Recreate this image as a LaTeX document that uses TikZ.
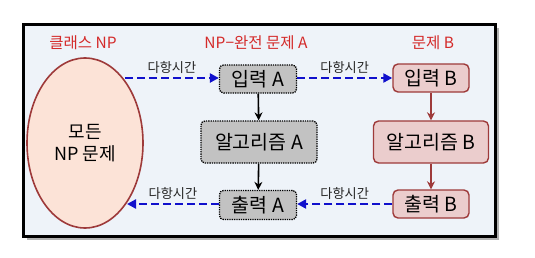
\documentclass[tikz,border=0pt]{standalone}
\usepackage{fontspec}
\setmainfont{Noto Sans CJK KR}
\usetikzlibrary{arrows.meta,shadows,shapes.geometric}
\definecolor{titlered}{HTML}{D42A2A}
\definecolor{boxgrey}{HTML}{C2C2C2}
\definecolor{pinkfill}{HTML}{EBCDCD}
\definecolor{darkred}{HTML}{9E3A3A}
\definecolor{peach}{HTML}{FCE3D7}
\definecolor{arrowblue}{HTML}{1010CC}
\definecolor{bgblue}{HTML}{EEF3F9}
\tikzset{
  greybox/.style={draw=black, densely dotted, line width=1.3pt, fill=boxgrey, rounded corners=4pt, inner sep=0pt, font=\fontsize{19.5}{20}\selectfont},
  pinkbox/.style={draw=darkred, line width=1.4pt, fill=pinkfill, rounded corners=5pt, inner sep=0pt, font=\fontsize{19.5}{20}\selectfont},
  titletext/.style={text=titlered, font=\fontsize{15.5}{16}\selectfont},
  lbl/.style={font=\fontsize{13.2}{14}\selectfont, text=black!85},
  polyarrow/.style={draw=arrowblue, line width=2.6pt, dash pattern=on 8pt off 4pt, -{Triangle[length=9pt,width=9pt]}},
  blackarrow/.style={draw=black, line width=1.6pt, -{Stealth[length=8pt,width=8pt]}},
  redarrow/.style={draw=darkred, line width=1.6pt, -{Stealth[length=8pt,width=8pt]}},
}
\begin{document}
\begin{tikzpicture}[x=1pt,y=-1pt]
\useasboundingbox (0,0) rectangle (535,257);
% frame shadow and frame
\fill[black!30] (27,28) rectangle (499,240);
\draw[line width=3pt, fill=bgblue] (23,24) rectangle (495,236);
% ellipse
\node (all) [draw=darkred, line width=1.6pt, fill=peach, ellipse, minimum width=116pt, minimum height=170pt, inner sep=0pt, align=center, font=\fontsize{18}{22}\selectfont] at (85,143) {모든\\NP 문제};
% titles
\node (t1) [titletext] at (83,43) {클래스 NP};
\node (t2) [titletext] at (256,43) {NP−완전 문제 A};
\node (t3) [titletext] at (433,43) {문제 B};
% A boxes
\node (inA) [greybox, minimum width=77pt, minimum height=28pt] at (258,79) {입력 A};
\node (algA) [greybox, minimum width=116pt, minimum height=42pt] at (259,142) {알고리즘 A};
\node (outA) [greybox, minimum width=77pt, minimum height=29pt] at (258,205) {출력 A};
% B boxes
\node (inB) [pinkbox, minimum width=76pt, minimum height=28pt] at (431,78) {입력 B};
\node (algB) [pinkbox, minimum width=115pt, minimum height=42pt] at (431,142) {알고리즘 B};
\node (outB) [pinkbox, minimum width=76pt, minimum height=28pt] at (431,204) {출력 B};
% vertical arrows
\draw[blackarrow] (inA) -- (algA);
\draw[blackarrow] (algA) -- (outA);
\draw[redarrow] (inB) -- (algB);
\draw[redarrow] (algB) -- (outB);
% polynomial-time reductions
\coordinate (e1) at (125,78);
\coordinate (e2) at (127,204);
\draw[polyarrow] (e1) -- node[lbl, above=0pt] {다항시간} (inA.west |- e1);
\draw[polyarrow] (inA.east |- inB.west) -- node[lbl, above=0pt] {다항시간} (inB.west);
\draw[polyarrow] (outB.west) -- node[lbl, above=0pt] {다항시간} (outA.east |- outB.west);
\draw[polyarrow] (outA.west |- e2) -- node[lbl, above=0pt] {다항시간} (e2);
\end{tikzpicture}
\end{document}
